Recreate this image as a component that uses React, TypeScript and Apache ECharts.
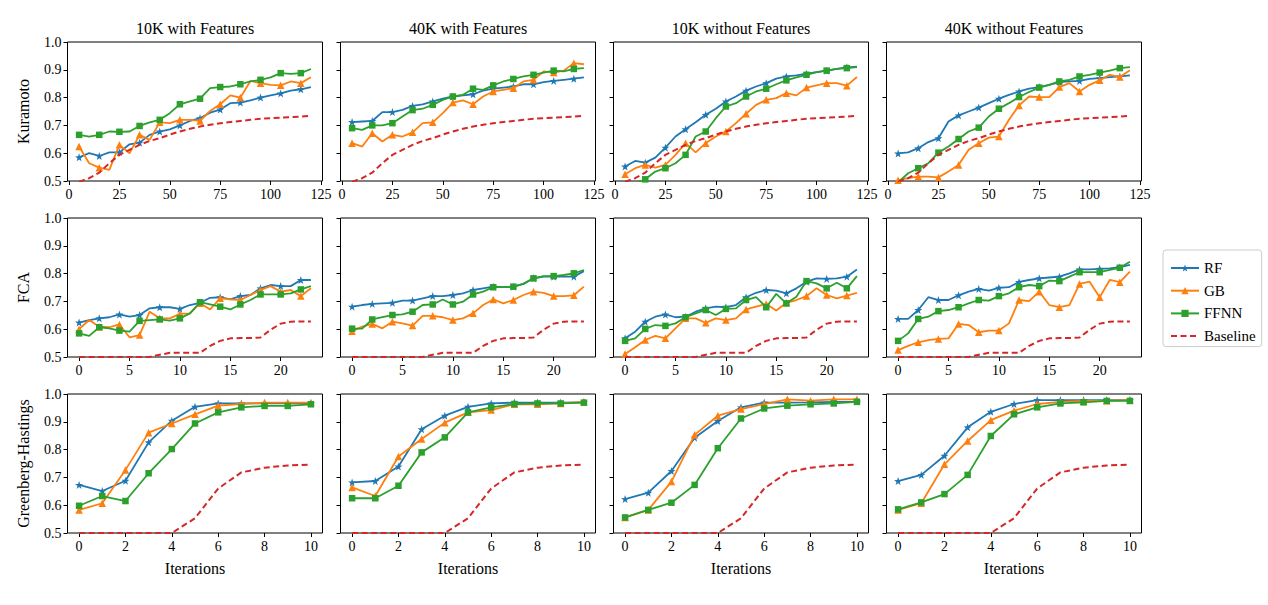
import React, { useEffect, useRef } from 'react';
import * as echarts from 'echarts';

const FONT = 'Liberation Serif';

// ---- column / row labels ----
const columnTitles = ['10K with Features', '40K with Features', '10K without Features', '40K without Features'];
const rowNames = ['Kuramoto', 'FCA', 'Greenberg-Hastings'];
const modelNames = ['RF', 'GB', 'FFNN', 'Baseline'];

// ---- x values ----
const xKura = [5, 10, 15, 20, 25, 30, 35, 40, 45, 50, 55, 60, 65, 70, 75, 80, 85, 90, 95, 100, 105, 110, 115, 120];
const xFca = [0, 1, 2, 3, 4, 5, 6, 7, 8, 9, 10, 11, 12, 13, 14, 15, 16, 17, 18, 19, 20, 21, 22, 23];
const xGh = [0, 1, 2, 3, 4, 5, 6, 7, 8, 9, 10];

// ---- tick labels ----
const kuraTicks = [0, 25, 50, 75, 100, 125];
const fcaTicks = [0, 5, 10, 15, 20];
const ghTicks = [0, 2, 4, 6, 8, 10];
const yTicks = [0.5, 0.6, 0.7, 0.8, 0.9, 1.0];

// ---- Kuramoto ----
const K10F_RF = [0.585, 0.6, 0.59, 0.603, 0.603, 0.632, 0.638, 0.666, 0.678, 0.686, 0.7, 0.716, 0.726, 0.746, 0.757, 0.78, 0.782, 0.79, 0.8, 0.808, 0.815, 0.825, 0.83, 0.838];
const K10F_GB = [0.624, 0.564, 0.548, 0.54, 0.63, 0.6, 0.666, 0.648, 0.711, 0.708, 0.72, 0.72, 0.716, 0.752, 0.776, 0.808, 0.8, 0.86, 0.852, 0.846, 0.844, 0.858, 0.852, 0.873];
const K10F_FF = [0.666, 0.66, 0.666, 0.678, 0.677, 0.678, 0.698, 0.711, 0.72, 0.744, 0.776, 0.786, 0.796, 0.834, 0.838, 0.84, 0.848, 0.858, 0.864, 0.873, 0.888, 0.885, 0.888, 0.903];

const K40F_RF = [0.712, 0.714, 0.716, 0.748, 0.748, 0.756, 0.77, 0.776, 0.786, 0.796, 0.804, 0.808, 0.812, 0.825, 0.832, 0.836, 0.84, 0.848, 0.848, 0.856, 0.86, 0.864, 0.868, 0.873];
const K40F_GB = [0.636, 0.624, 0.672, 0.642, 0.666, 0.66, 0.675, 0.708, 0.711, 0.744, 0.782, 0.79, 0.776, 0.804, 0.822, 0.828, 0.834, 0.858, 0.864, 0.894, 0.89, 0.897, 0.924, 0.92];
const K40F_FF = [0.69, 0.684, 0.7, 0.7, 0.708, 0.732, 0.755, 0.76, 0.774, 0.792, 0.804, 0.81, 0.832, 0.828, 0.844, 0.858, 0.867, 0.876, 0.882, 0.89, 0.897, 0.894, 0.903, 0.906];

const K10N_RF = [0.552, 0.572, 0.566, 0.584, 0.62, 0.66, 0.686, 0.711, 0.738, 0.76, 0.786, 0.804, 0.825, 0.84, 0.852, 0.868, 0.876, 0.88, 0.886, 0.892, 0.897, 0.903, 0.909, 0.911];
const K10N_GB = [0.524, 0.546, 0.558, 0.548, 0.558, 0.594, 0.636, 0.603, 0.636, 0.66, 0.678, 0.708, 0.742, 0.774, 0.792, 0.798, 0.816, 0.808, 0.836, 0.844, 0.852, 0.852, 0.843, 0.874];
const K10N_FF = [0.47, 0.49, 0.506, 0.534, 0.546, 0.564, 0.594, 0.66, 0.678, 0.726, 0.768, 0.78, 0.804, 0.822, 0.832, 0.848, 0.862, 0.873, 0.882, 0.892, 0.897, 0.903, 0.906, 0.91];

const K40N_RF = [0.599, 0.603, 0.618, 0.64, 0.654, 0.714, 0.736, 0.75, 0.764, 0.78, 0.796, 0.81, 0.822, 0.832, 0.838, 0.846, 0.856, 0.858, 0.86, 0.867, 0.87, 0.874, 0.876, 0.88];
const K40N_GB = [0.503, 0.51, 0.516, 0.516, 0.513, 0.534, 0.558, 0.612, 0.636, 0.656, 0.66, 0.72, 0.772, 0.804, 0.802, 0.802, 0.838, 0.852, 0.822, 0.846, 0.862, 0.882, 0.874, 0.898];
const K40N_FF = [0.495, 0.528, 0.546, 0.564, 0.602, 0.624, 0.651, 0.678, 0.692, 0.732, 0.76, 0.78, 0.802, 0.82, 0.836, 0.846, 0.858, 0.864, 0.876, 0.882, 0.89, 0.897, 0.906, 0.91];

const K_BASE = [0.497, 0.51, 0.53, 0.564, 0.594, 0.612, 0.63, 0.644, 0.654, 0.667, 0.678, 0.688, 0.696, 0.702, 0.708, 0.712, 0.716, 0.72, 0.724, 0.726, 0.728, 0.73, 0.732, 0.734];

// ---- FCA ----
const F10F_RF = [0.624, 0.633, 0.639, 0.643, 0.653, 0.645, 0.651, 0.675, 0.679, 0.679, 0.673, 0.687, 0.695, 0.713, 0.715, 0.707, 0.719, 0.723, 0.747, 0.759, 0.755, 0.755, 0.777, 0.777];
const F10F_GB = [0.6, 0.633, 0.609, 0.607, 0.617, 0.571, 0.579, 0.663, 0.639, 0.639, 0.655, 0.657, 0.693, 0.671, 0.711, 0.707, 0.705, 0.723, 0.741, 0.755, 0.735, 0.741, 0.719, 0.747];
const F10F_FF = [0.585, 0.576, 0.607, 0.603, 0.595, 0.591, 0.63, 0.633, 0.635, 0.631, 0.639, 0.657, 0.697, 0.689, 0.681, 0.671, 0.689, 0.705, 0.725, 0.725, 0.725, 0.729, 0.743, 0.755];

const F40F_RF = [0.681, 0.687, 0.691, 0.693, 0.695, 0.703, 0.703, 0.711, 0.719, 0.719, 0.723, 0.729, 0.741, 0.747, 0.753, 0.751, 0.753, 0.763, 0.783, 0.789, 0.789, 0.789, 0.789, 0.809];
const F40F_GB = [0.593, 0.609, 0.619, 0.603, 0.627, 0.621, 0.613, 0.648, 0.648, 0.643, 0.633, 0.639, 0.657, 0.687, 0.707, 0.693, 0.705, 0.723, 0.735, 0.731, 0.719, 0.719, 0.722, 0.753];
const F40F_FF = [0.602, 0.602, 0.635, 0.643, 0.651, 0.653, 0.663, 0.687, 0.689, 0.707, 0.689, 0.699, 0.725, 0.735, 0.751, 0.751, 0.753, 0.763, 0.783, 0.791, 0.791, 0.795, 0.801, 0.813];

const F10N_RF = [0.567, 0.591, 0.627, 0.645, 0.653, 0.643, 0.645, 0.663, 0.675, 0.681, 0.679, 0.687, 0.715, 0.731, 0.741, 0.739, 0.729, 0.747, 0.771, 0.783, 0.781, 0.783, 0.789, 0.815];
const F10N_GB = [0.511, 0.535, 0.561, 0.576, 0.567, 0.603, 0.639, 0.639, 0.623, 0.639, 0.633, 0.639, 0.671, 0.681, 0.691, 0.667, 0.695, 0.705, 0.719, 0.747, 0.723, 0.711, 0.721, 0.731];
const F10N_FF = [0.558, 0.567, 0.601, 0.615, 0.612, 0.621, 0.643, 0.657, 0.669, 0.651, 0.673, 0.675, 0.705, 0.715, 0.679, 0.727, 0.693, 0.717, 0.773, 0.765, 0.747, 0.767, 0.747, 0.791];

const F40N_RF = [0.637, 0.637, 0.669, 0.715, 0.705, 0.705, 0.722, 0.735, 0.745, 0.739, 0.749, 0.751, 0.77, 0.777, 0.783, 0.786, 0.789, 0.801, 0.815, 0.815, 0.817, 0.819, 0.823, 0.831];
const F40N_GB = [0.525, 0.54, 0.553, 0.561, 0.565, 0.567, 0.619, 0.615, 0.589, 0.595, 0.595, 0.621, 0.705, 0.701, 0.735, 0.687, 0.679, 0.687, 0.763, 0.771, 0.715, 0.777, 0.769, 0.807];
const F40N_FF = [0.558, 0.585, 0.637, 0.645, 0.665, 0.669, 0.679, 0.693, 0.705, 0.703, 0.719, 0.729, 0.751, 0.759, 0.755, 0.775, 0.773, 0.789, 0.805, 0.805, 0.805, 0.813, 0.821, 0.843];

const F_BASE = [0.5, 0.5, 0.5, 0.5, 0.5, 0.5, 0.5, 0.5, 0.508, 0.515, 0.515, 0.515, 0.515, 0.54, 0.558, 0.567, 0.568, 0.568, 0.57, 0.598, 0.62, 0.627, 0.628, 0.628];

// ---- Greenberg-Hastings ----
const G10F_RF = [0.673, 0.651, 0.688, 0.826, 0.904, 0.954, 0.966, 0.966, 0.966, 0.966, 0.966];
const G10F_GB = [0.583, 0.607, 0.727, 0.861, 0.894, 0.927, 0.958, 0.964, 0.969, 0.969, 0.969];
const G10F_FF = [0.598, 0.633, 0.615, 0.715, 0.802, 0.894, 0.934, 0.952, 0.957, 0.957, 0.963];
const G40F_RF = [0.682, 0.687, 0.739, 0.873, 0.922, 0.954, 0.966, 0.969, 0.969, 0.969, 0.97];
const G40F_GB = [0.664, 0.633, 0.775, 0.838, 0.897, 0.934, 0.942, 0.963, 0.963, 0.966, 0.972];
const G40F_FF = [0.625, 0.625, 0.67, 0.79, 0.844, 0.934, 0.952, 0.964, 0.966, 0.966, 0.969];
const G10N_RF = [0.622, 0.645, 0.723, 0.843, 0.903, 0.952, 0.969, 0.969, 0.97, 0.972, 0.972];
const G10N_GB = [0.556, 0.583, 0.685, 0.853, 0.922, 0.946, 0.964, 0.981, 0.976, 0.981, 0.981];
const G10N_FF = [0.556, 0.583, 0.609, 0.673, 0.805, 0.912, 0.948, 0.958, 0.963, 0.966, 0.972];
const G40N_RF = [0.687, 0.709, 0.778, 0.88, 0.936, 0.964, 0.978, 0.978, 0.978, 0.978, 0.978];
const G40N_GB = [0.583, 0.607, 0.747, 0.831, 0.906, 0.94, 0.964, 0.972, 0.975, 0.976, 0.978];
const G40N_FF = [0.585, 0.61, 0.64, 0.709, 0.849, 0.927, 0.952, 0.966, 0.97, 0.975, 0.975];

const G_BASE = [0.5, 0.5, 0.5, 0.5, 0.5, 0.553, 0.66, 0.718, 0.735, 0.743, 0.746];

// ---- layout / style ----
const COL_LEFT = [67.5, 340.5, 613.5, 886.5];
const ROW_TOP = [42, 218, 394];
const PANEL_W = 255;
const PANEL_H = 139;
const COLORS = ['#1f77b4', '#ff7f0e', '#2ca02c', '#d62728'];
const STAR = 'path://M0,-10L2.35,-3.24L9.51,-3.09L3.8,1.24L5.88,8.09L0,4L-5.88,8.09L-3.8,1.24L-9.51,-3.09L-2.35,-3.24Z';
const SYMBOLS = [STAR, 'triangle', 'rect', 'none'];
const SIZES = [8, 7.5, 6.5, 0];

const rows = [
  { xs: xKura, min: -0.75, max: 125.75, ticks: kuraTicks, every: 2, base: K_BASE,
    panels: [[K10F_RF, K10F_GB, K10F_FF], [K40F_RF, K40F_GB, K40F_FF], [K10N_RF, K10N_GB, K10N_FF], [K40N_RF, K40N_GB, K40N_FF]] },
  { xs: xFca, min: -1.15, max: 24.15, ticks: fcaTicks, every: 2, base: F_BASE,
    panels: [[F10F_RF, F10F_GB, F10F_FF], [F40F_RF, F40F_GB, F40F_FF], [F10N_RF, F10N_GB, F10N_FF], [F40N_RF, F40N_GB, F40N_FF]] },
  { xs: xGh, min: -0.5, max: 10.5, ticks: ghTicks, every: 1, base: G_BASE,
    panels: [[G10F_RF, G10F_GB, G10F_FF], [G40F_RF, G40F_GB, G40F_FF], [G10N_RF, G10N_GB, G10N_FF], [G40N_RF, G40N_GB, G40N_FF]] },
];

function buildOption() {
  const grid: any[] = [];
  const xAxis: any[] = [];
  const yAxis: any[] = [];
  const series: any[] = [];
  const graphic: any[] = [];

  rows.forEach((row, r) => {
    for (let c = 0; c < 4; c++) {
      const g = r * 4 + c;
      grid.push({
        left: COL_LEFT[c], top: ROW_TOP[r], width: PANEL_W, height: PANEL_H,
        show: true, borderColor: '#000', borderWidth: 1, backgroundColor: 'transparent',
      });
      xAxis.push({
        type: 'value', gridIndex: g, min: row.min, max: row.max, position: 'bottom',
        axisLine: { show: false, onZero: false },
        splitLine: { show: false },
        axisTick: { show: true, length: 4, lineStyle: { color: '#000', width: 1 }, customValues: row.ticks },
        axisLabel: { customValues: row.ticks, margin: 6, color: '#000', fontFamily: FONT, fontSize: 14 },
        name: r === 2 ? 'Iterations' : '',
        nameLocation: 'middle', nameGap: 27,
        nameTextStyle: { color: '#000', fontFamily: FONT, fontSize: 16 },
      });
      yAxis.push({
        type: 'value', gridIndex: g, min: 0.5, max: 1.0, position: 'left',
        axisLine: { show: false, onZero: false },
        splitLine: { show: false },
        axisTick: { show: true, length: 4, lineStyle: { color: '#000', width: 1 }, customValues: yTicks },
        axisLabel: {
          show: c === 0, customValues: yTicks, margin: 6, color: '#000', fontFamily: FONT, fontSize: 14,
          formatter: (v: number) => v.toFixed(1),
        },
        name: c === 0 ? rowNames[r] : '',
        nameLocation: 'middle', nameGap: 36,
        nameTextStyle: { color: '#000', fontFamily: FONT, fontSize: 16 },
      });
      const lines = [...row.panels[c], row.base];
      lines.forEach((vals, m) => {
        const every = row.every;
        series.push({
          type: 'line', name: modelNames[m], xAxisIndex: g, yAxisIndex: g,
          data: row.xs.map((x, i) => [x, vals[i]]),
          symbol: SYMBOLS[m],
          symbolSize: m === 3 ? 0 : (_v: any, p: any) => (p.dataIndex % every === 0 ? SIZES[m] : 0),
          showSymbol: m !== 3,
          clip: true,
          lineStyle: { color: COLORS[m], width: m === 3 ? 2 : 1.8, type: m === 3 ? [6, 3.5] : 'solid' },
          itemStyle: { color: COLORS[m] },
          emphasis: { disabled: true },
          z: 2 + m,
        });
      });
    }
  });

  columnTitles.forEach((t, c) => {
    graphic.push({
      type: 'text', x: COL_LEFT[c] + PANEL_W / 2, y: 28,
      style: {
        text: t, fill: '#000', font: `16px "${FONT}"`,
        align: 'center', verticalAlign: 'middle', textAlign: 'center', textVerticalAlign: 'middle',
      },
    });
  });

  return {
    animation: false,
    backgroundColor: '#fff',
    textStyle: { fontFamily: FONT },
    grid, xAxis, yAxis, series, graphic,
    legend: {
      orient: 'vertical', left: 1163, top: 250,
      data: ['RF', 'GB', 'FFNN', { name: 'Baseline', itemStyle: { opacity: 0 } }],
      itemWidth: 28, itemHeight: 9, itemGap: 7.7,
      padding: [10.5, 6, 3, 7],
      borderColor: '#cccccc', borderWidth: 1, borderRadius: 3,
      backgroundColor: 'rgba(255,255,255,0.8)',
      textStyle: { color: '#000', fontFamily: FONT, fontSize: 15, lineHeight: 15 },
      selectedMode: false,
    },
  };
}

export default function App() {
  const ref = useRef<HTMLDivElement>(null);
  useEffect(() => {
    const chart = echarts.init(ref.current!, null, { renderer: 'svg' });
    chart.setOption(buildOption() as any);
    return () => chart.dispose();
  }, []);
  return <div ref={ref} style={{ position: 'fixed', left: 0, top: 0, width: 1268, height: 605 }} />;
}
